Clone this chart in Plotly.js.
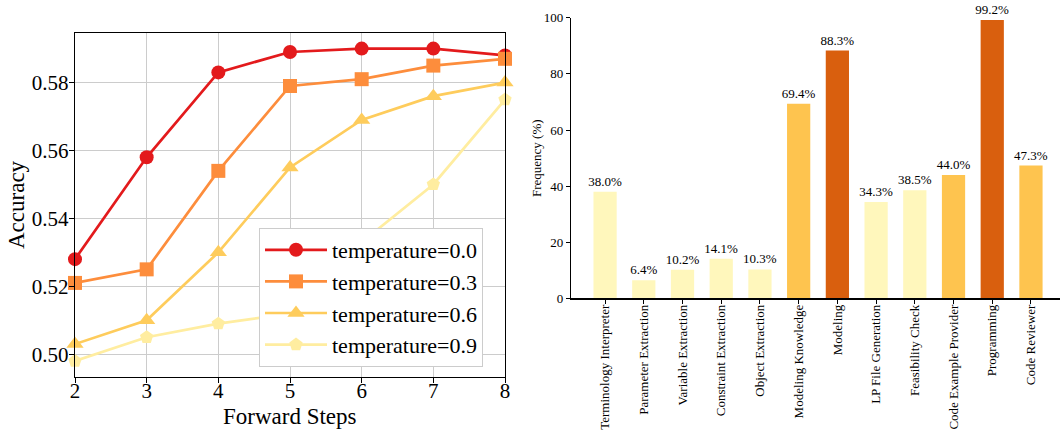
<!DOCTYPE html>
<html>
<head>
<meta charset="utf-8">
<script src="https://cdn.plot.ly/plotly-3.0.1.min.js"></script>
<style>html,body{margin:0;padding:0;background:#fff;}#chart{width:1060px;height:434px;}</style>
</head>
<body>
<div id="chart"></div>
<script>
// ---- Left chart data ----
var steps = [2, 3, 4, 5, 6, 7, 8];
var temp00 = [0.528, 0.558, 0.583, 0.589, 0.590, 0.590, 0.588];
var temp03 = [0.521, 0.525, 0.554, 0.579, 0.581, 0.585, 0.587];
var temp06 = [0.503, 0.510, 0.530, 0.555, 0.569, 0.576, 0.580];
var temp09 = [0.498, 0.505, 0.509, 0.512, 0.533, 0.550, 0.575];
var seriesNames = ["temperature=0.0", "temperature=0.3", "temperature=0.6", "temperature=0.9"];
var lineColors = ["#e31a1c", "#fd8d3c", "#fecc5c", "#ffeda0"];
var lineSymbols = ["circle", "square", "triangle-up", "pentagon"];

// ---- Right chart data ----
var agents = ["Terminology Interpreter", "Parameter Extraction", "Variable Extraction", "Constraint Extraction",
  "Object Extraction", "Modeling Knowledge", "Modeling", "LP File Generation", "Feasibility Check",
  "Code Example Provider", "Programming", "Code Reviewer"];
var frequency = [38.0, 6.4, 10.2, 14.1, 10.3, 69.4, 88.3, 34.3, 38.5, 44.0, 99.2, 47.3];
var level = [0, 0, 0, 0, 0, 1, 2, 0, 0, 1, 2, 1];
var levelColors = ["#fff7bc", "#fec44f", "#d95f0e"];

var W = 1060, H = 434;
function fx(px) { return px / W; }
function fy(px) { return 1 - px / H; }

var serif = "'Liberation Serif', 'Times New Roman', serif";
var allSeries = [temp00, temp03, temp06, temp09];
var traces = [];
for (var i = 0; i < allSeries.length; i++) {
  traces.push({
    type: "scatter", mode: "lines+markers",
    x: steps, y: allSeries[i], name: seriesNames[i],
    xaxis: "x", yaxis: "y",
    line: {color: lineColors[i], width: 2.7},
    marker: {color: lineColors[i], symbol: lineSymbols[i], size: i === 2 ? 15 : 14, line: {width: 0}},
    cliponaxis: false
  });
}
traces.push({
  type: "bar", x: agents, y: frequency, xaxis: "x2", yaxis: "y2",
  marker: {color: level.map(function (l) { return levelColors[l]; }), line: {width: 0}},
  width: 0.6,
  text: frequency.map(function (v) { return v.toFixed(1) + "%"; }),
  textposition: "outside", cliponaxis: false, constraintext: "none",
  textfont: {family: serif, size: 13, color: "#000"},
  showlegend: false, hoverinfo: "x+y"
});

var layout = {
  width: W, height: H,
  margin: {l: 0, r: 0, t: 0, b: 0},
  paper_bgcolor: "#fff", plot_bgcolor: "rgba(0,0,0,0)",
  font: {family: serif, color: "#000"},
  xaxis: {
    domain: [fx(75), fx(505)], range: [2, 8], anchor: "y",
    tickmode: "array", tickvals: steps, ticktext: steps.map(String),
    showgrid: true, gridcolor: "#cccccc", gridwidth: 1,
    showline: true, linecolor: "#000", linewidth: 1.2, mirror: true,
    ticks: "outside", ticklen: 5, tickcolor: "#000", zeroline: false,
    tickfont: {family: serif, size: 21}, ticklabelstandoff: -10,
    automargin: false
  },
  yaxis: {
    domain: [fy(377), fy(33)], range: [0.4933, 0.5946], anchor: "x",
    tickvals: [0.50, 0.52, 0.54, 0.56, 0.58], ticktext: ["0.50", "0.52", "0.54", "0.56", "0.58"],
    showgrid: true, gridcolor: "#cccccc", gridwidth: 1,
    showline: true, linecolor: "#000", linewidth: 1.2, mirror: true,
    ticks: "outside", ticklen: 5, tickcolor: "#000", zeroline: false,
    tickfont: {family: serif, size: 21}, ticklabelstandoff: -4,
    automargin: false
  },
  xaxis2: {
    domain: [fx(571), 1], range: [-0.88, 11.75], anchor: "y2",
    showgrid: false, showline: true, linecolor: "#000", linewidth: 1.2,
    ticks: "outside", ticklen: 4, tickcolor: "#000", tickangle: -90,
    tickfont: {family: serif, size: 13}, ticklabelstandoff: -4, automargin: false
  },
  yaxis2: {
    domain: [fy(298.3), fy(17.8)], range: [0, 100], anchor: "x2",
    tickvals: [0, 20, 40, 60, 80, 100],
    showgrid: false, showline: true, linecolor: "#000", linewidth: 1.2, zeroline: false,
    ticks: "outside", ticklen: 4, tickcolor: "#000",
    tickfont: {family: serif, size: 13},
    automargin: false
  },
  annotations: [
    {text: "Forward Steps", xref: "paper", yref: "paper", x: fx(290), y: fy(416),
     xanchor: "center", yanchor: "middle", showarrow: false, font: {family: serif, size: 23}},
    {text: "Accuracy", xref: "paper", yref: "paper", x: fx(16), y: fy(205), textangle: -90,
     xanchor: "center", yanchor: "middle", showarrow: false, font: {family: serif, size: 23}},
    {text: "Frequency (%)", xref: "paper", yref: "paper", x: fx(536), y: fy(158), textangle: -90,
     xanchor: "center", yanchor: "middle", showarrow: false, font: {family: serif, size: 13}}
  ],
  legend: {
    x: fx(259), y: fy(228), xanchor: "left", yanchor: "top",
    bgcolor: "rgba(255,255,255,1)", bordercolor: "#cccccc", borderwidth: 1,
    font: {family: serif, size: 22}, itemwidth: 62, tracegroupgap: 0
  },
  showlegend: true, bargap: 0.4
};

Plotly.newPlot("chart", traces, layout, {displayModeBar: false, staticPlot: true});
</script>
</body>
</html>
